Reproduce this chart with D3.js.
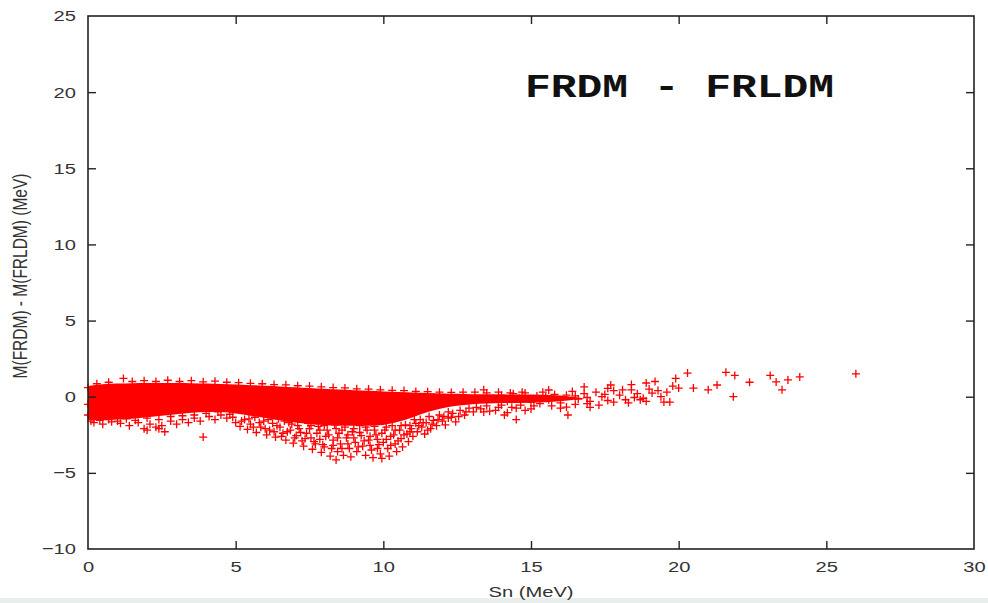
<!DOCTYPE html>
<html>
<head>
<meta charset="utf-8">
<script src="https://cdn.jsdelivr.net/npm/d3@7"></script>
<style>
  html, body { margin: 0; padding: 0; background: #fff; }
  svg { display: block; }
</style>
</head>
<body>
<svg id="chart" width="988" height="603"></svg>
<script>
// ---------------- data ----------------
const xTicks = [0, 5, 10, 15, 20, 25, 30];
const yTicks = [-10, -5, 0, 5, 10, 15, 20, 25];
const titleText = "FRDM - FRLDM";
const xLabel = "Sn (MeV)";
const yLabel = "M(FRDM) - M(FRLDM) (MeV)";

// envelope of the saturated (solid) core of the point cloud
const coreSn = [0, 0.5, 1, 1.5, 2, 2.5, 3, 3.5, 4, 4.5, 5, 5.5, 6, 6.5, 7, 7.5, 8, 8.5, 9, 9.5, 10, 10.5, 11, 11.5, 12, 12.5, 13, 13.5, 14, 15, 16, 16.8];
const coreHi = [0.7, 0.82, 0.86, 0.88, 0.9, 0.9, 0.9, 0.88, 0.86, 0.84, 0.8, 0.76, 0.72, 0.67, 0.62, 0.57, 0.52, 0.47, 0.43, 0.39, 0.35, 0.31, 0.27, 0.24, 0.21, 0.19, 0.17, 0.16, 0.15, 0.15, 0.08, -0.1];
const coreLo = [-1.55, -1.55, -1.5, -1.45, -1.35, -1.25, -1.15, -1.05, -1.0, -1.0, -1.1, -1.25, -1.4, -1.55, -1.7, -1.8, -1.85, -1.9, -1.9, -1.9, -1.85, -1.65, -1.35, -1.0, -0.75, -0.6, -0.5, -0.45, -0.42, -0.4, -0.3, -0.12];

// crosses along the upper edge of the cloud
const edgeTop = [[0.0,0.6],[0.3,0.85],[0.7,0.95],[1.2,1.2],[1.5,1.0],[1.9,1.05],[2.3,1.0],[2.7,1.08],[3.1,1.0],[3.5,1.05],[3.9,0.98],[4.3,1.02],[4.7,0.95],[5.1,0.92],[5.5,0.88],[5.9,0.85],[6.3,0.8],[6.7,0.78],[7.1,0.72],[7.5,0.7],[7.9,0.65],[8.3,0.6],[8.7,0.58],[9.1,0.52],[9.5,0.5],[9.9,0.45],[10.3,0.42],[10.7,0.4],[11.1,0.35],[11.5,0.33],[11.9,0.3],[12.3,0.28],[12.7,0.3],[13.1,0.3],[13.5,0.25],[13.9,0.3],[14.3,0.25],[14.7,0.3]];

// crosses along the lower edge, low Sn
const edgeLow = [[0.0,-0.5],[0.0,-1.2],[0.1,-1.6],[0.2,-1.7],[0.4,-1.55],[0.5,-1.8],[0.7,-1.5],[0.8,-1.65],[1.0,-1.6],[1.1,-1.75],[1.3,-1.45],[1.4,-1.9],[1.6,-1.55],[1.7,-1.7],[1.9,-2.1],[2.0,-1.4],[2.0,-2.2],[2.1,-1.8],[2.3,-2.0],[2.4,-1.5],[2.4,-2.1],[2.5,-1.9],[2.6,-2.3],[2.8,-1.3],[2.8,-1.6],[3.0,-1.8],[3.2,-1.25],[3.2,-1.5],[3.4,-1.7],[3.6,-1.2],[3.6,-1.4],[3.8,-1.6],[3.9,-2.65],[4.0,-1.1],[4.1,-1.3],[4.3,-1.5],[4.4,-1.0],[4.5,-1.2],[4.7,-1.4],[4.8,-1.15]];

// spray of deep negative values, Sn ~ 5 - 15
const spray = [[4.9,-1.35],[5.0,-1.7],[5.15,-1.95],[5.3,-1.5],[5.4,-2.15],[5.5,-1.8],[5.65,-1.35],[5.7,-2.35],[5.85,-2.0],[5.95,-1.6],[6.05,-2.5],[6.15,-2.2],[6.25,-1.75],[6.35,-2.65],[6.45,-1.45],[6.5,-2.0],[6.6,-2.4],[6.7,-2.85],[6.8,-1.7],[6.85,-2.2],[6.95,-3.05],[7.05,-2.55],[7.1,-1.9],[7.2,-2.35],[7.3,-3.25],[7.35,-2.75],[7.45,-1.75],[7.5,-2.1],[7.6,-3.45],[7.65,-2.95],[7.75,-2.4],[7.8,-1.95],[7.9,-3.65],[7.95,-3.15],[8.05,-2.6],[8.1,-2.2],[8.2,-3.9],[8.25,-3.4],[8.3,-2.85],[8.35,-1.85],[8.4,-4.15],[8.45,-3.6],[8.5,-2.4],[8.55,-3.1],[8.65,-3.85],[8.7,-2.0],[8.75,-2.7],[8.85,-3.4],[8.9,-3.95],[8.95,-2.3],[9.05,-3.0],[9.1,-3.6],[9.2,-1.9],[9.25,-2.55],[9.3,-3.25],[9.4,-3.85],[9.45,-2.2],[9.5,-2.85],[9.6,-3.5],[9.65,-4.0],[9.7,-1.95],[9.75,-2.5],[9.85,-3.15],[9.9,-3.75],[9.95,-4.05],[10.05,-2.2],[10.1,-2.8],[10.15,-3.4],[10.2,-3.9],[10.3,-1.9],[10.35,-2.5],[10.4,-3.1],[10.45,-3.6],[10.55,-2.2],[10.6,-2.75],[10.65,-3.3],[10.75,-1.85],[10.8,-2.45],[10.85,-2.95],[10.95,-2.1],[11.0,-2.6],[11.1,-1.75],[11.15,-2.3],[11.25,-1.5],[11.3,-2.0],[11.4,-2.45],[11.45,-1.7],[11.55,-1.3],[11.6,-2.1],[11.7,-1.55],[11.8,-1.9],[11.9,-1.2],[12.0,-1.6],[12.1,-1.85],[12.2,-1.0],[12.2,-1.4],[12.3,-1.35],[12.45,-1.65],[12.6,-0.9],[12.75,-1.2],[12.9,-0.75],[13.05,-1.0],[13.3,-0.8],[13.4,-1.0],[13.6,-0.95],[13.9,-0.7],[14.1,-1.2],[14.2,-1.05],[14.5,-1.5],[14.5,-0.75],[14.8,-0.9],[15.1,-0.6],[16.2,-0.68],[16.25,-1.2],[17.0,-0.7]];

// second, denser layer of the spray
const spray2 = [[5.2,-1.6],[5.45,-1.45],[5.6,-2.0],[5.8,-1.7],[6.0,-2.1],[6.1,-1.5],[6.3,-2.3],[6.4,-1.9],[6.55,-2.6],[6.65,-1.6],[6.75,-2.3],[6.9,-1.8],[7.0,-2.7],[7.15,-2.1],[7.25,-2.9],[7.4,-2.4],[7.55,-1.9],[7.55,-2.7],[7.7,-3.1],[7.85,-2.2],[7.85,-2.8],[8.0,-3.3],[8.0,-1.9],[8.15,-2.5],[8.3,-3.2],[8.4,-2.1],[8.45,-2.7],[8.6,-3.4],[8.6,-2.2],[8.8,-2.5],[8.8,-3.1],[9.0,-2.1],[9.0,-2.7],[9.15,-3.3],[9.2,-2.35],[9.35,-2.9],[9.4,-2.0],[9.55,-2.6],[9.55,-3.2],[9.7,-2.2],[9.8,-2.8],[9.8,-3.4],[9.95,-2.4],[10.0,-3.0],[10.1,-2.0],[10.25,-2.6],[10.25,-3.2],[10.4,-2.2],[10.5,-2.9],[10.6,-1.9],[10.7,-2.5],[10.9,-1.9],[10.9,-2.3],[11.05,-1.5],[11.2,-1.9],[11.35,-1.7],[11.5,-2.2],[11.65,-1.8],[11.85,-1.5],[12.05,-1.3],[12.35,-1.1],[12.55,-1.3],[12.8,-1.0],[13.15,-0.7],[13.5,-0.6],[13.8,-0.9],[14.0,-0.55],[14.35,-0.7],[14.65,-0.55],[15.0,-0.8],[15.3,-0.45],[15.7,-0.6],[16.0,-0.75],[16.5,-0.5],[16.9,-0.45],[17.3,-0.55],[17.6,0.55],[18.1,0.45],[18.3,-0.4],[18.9,-0.3],[19.3,0.4],[19.6,0.3],[19.8,0.7]];

// band and sparse tail at high Sn
const tail = [[13.4,0.45],[14.0,0.1],[14.2,-0.3],[14.4,0.2],[14.6,-0.1],[14.8,0.25],[15.0,-0.35],[15.2,0.05],[15.4,0.3],[15.5,0.0],[15.6,0.44],[15.6,-0.2],[15.8,0.15],[16.0,-0.4],[16.2,0.1],[16.4,0.35],[16.5,0.05],[16.6,-0.15],[16.8,0.64],[16.8,0.2],[16.9,-0.05],[17.0,-0.3],[17.2,0.3],[17.4,0.0],[17.5,0.15],[17.6,-0.25],[17.7,0.77],[17.8,-0.35],[17.8,0.4],[18.0,0.1],[18.2,-0.2],[18.4,0.8],[18.4,0.45],[18.5,-0.05],[18.6,0.2],[18.7,-0.2],[18.8,-0.1],[18.9,0.9],[19.0,0.5],[19.1,0.24],[19.2,1.0],[19.4,0.0],[19.5,-0.35],[19.7,-0.35],[19.9,1.2],[20.0,0.57],[20.3,1.55],[20.5,0.57],[21.0,0.45],[21.3,0.77],[21.6,1.6],[21.85,0.0],[21.9,1.4],[22.4,0.95],[23.1,1.4],[23.3,0.97],[23.5,0.45],[23.7,1.1],[24.1,1.3],[26.0,1.5]];

// ---------------- drawing ----------------
const svg = d3.select("#chart");
const pL = 88, pR = 974, pT = 16, pB = 549;
const x = d3.scaleLinear().domain([0, 30]).range([pL, pR]);
const y = d3.scaleLinear().domain([-10, 25]).range([pB, pT]);
const STRETCH = 1.3;
const red = "#ff0000";
const axisColor = "#222";
const textColor = "#333";

// bottom grey strip
svg.append("rect").attr("x", 0).attr("y", 598).attr("width", 988).attr("height", 5).attr("fill", "#e7eeec");

// data layer
const dataG = svg.append("g");
const area = d3.area()
  .x((d, i) => x(coreSn[i]))
  .y0((d, i) => y(coreLo[i]))
  .y1((d, i) => y(coreHi[i]))
  .curve(d3.curveMonotoneX);
dataG.append("path").datum(coreSn).attr("d", area).attr("fill", red);

const allPts = [].concat(edgeTop, edgeLow, spray, spray2, tail);
const cs = 4;
dataG.selectAll("path.pt").data(allPts).join("path")
  .attr("class", "pt")
  .attr("d", d => {
    const px = x(d[0]), py = y(d[1]);
    return `M${px - cs},${py}H${px + cs}M${px},${py - cs}V${py + cs}`;
  })
  .attr("stroke", red).attr("stroke-width", 1.3).attr("fill", "none");

// frame
svg.append("rect").attr("x", pL).attr("y", pT).attr("width", pR - pL).attr("height", pB - pT)
  .attr("fill", "none").attr("stroke", axisColor).attr("stroke-width", 1.6);

// axes with inward ticks
const tickLen = 8;
const gxB = svg.append("g").attr("transform", `translate(0,${pB})`)
  .call(d3.axisBottom(x).tickValues(xTicks).tickSizeInner(-tickLen).tickSizeOuter(0).tickPadding(14));
const gxT = svg.append("g").attr("transform", `translate(0,${pT})`)
  .call(d3.axisTop(x).tickValues(xTicks).tickSizeInner(-tickLen).tickSizeOuter(0).tickFormat(""));
const gyL = svg.append("g").attr("transform", `translate(${pL},0)`)
  .call(d3.axisLeft(y).tickValues(yTicks).tickSizeInner(-tickLen).tickSizeOuter(0).tickPadding(13));
const gyR = svg.append("g").attr("transform", `translate(${pR},0)`)
  .call(d3.axisRight(y).tickValues(yTicks).tickSizeInner(-tickLen).tickSizeOuter(0).tickFormat(""));

[gxB, gxT, gyL, gyR].forEach(g => {
  g.select(".domain").remove();
  g.selectAll(".tick line").attr("stroke", axisColor).attr("stroke-width", 1.4);
});
gxB.selectAll(".tick").filter(d => d === 0 || d === 30).select("line").remove();
gxT.selectAll(".tick").filter(d => d === 0 || d === 30).select("line").remove();
gyL.selectAll(".tick").filter(d => d === -10 || d === 25).select("line").remove();
gyR.selectAll(".tick").filter(d => d === -10 || d === 25).select("line").remove();

const fontFam = "'Liberation Sans', Arial, Helvetica, sans-serif";
gxB.selectAll(".tick text").each(function () {
  const t = d3.select(this);
  t.attr("y", null).attr("dy", null)
   .attr("transform", `translate(0,23) scale(${STRETCH},1)`)
   .attr("font-family", fontFam).attr("font-size", 15.5).attr("fill", textColor);
});
gyL.selectAll(".tick text").each(function () {
  const t = d3.select(this);
  t.attr("x", null)
   .attr("transform", `translate(-12,0) scale(${STRETCH},1)`)
   .attr("font-family", fontFam).attr("font-size", 15.5).attr("fill", textColor);
});

// axis titles
svg.append("text")
  .attr("transform", `translate(531,597) scale(${STRETCH},1)`)
  .attr("text-anchor", "middle")
  .attr("font-family", fontFam).attr("font-size", 15.5).attr("fill", textColor)
  .text(xLabel);

svg.append("text")
  .attr("transform", `translate(20,${(172 + 380) / 2}) scale(${STRETCH},1) rotate(-90)`)
  .attr("text-anchor", "middle")
  .attr("dy", "0.35em")
  .attr("font-family", fontFam).attr("font-size", 15.5).attr("fill", textColor)
  .text(yLabel);

// chart title inside plot
svg.append("text")
  .attr("transform", `translate(525,97) scale(${STRETCH},1)`)
  .attr("font-family", "'Liberation Mono', 'DejaVu Sans Mono', monospace")
  .attr("font-weight", "bold").attr("font-size", 33).attr("fill", "#111")
  .text(titleText);
</script>
</body>
</html>
